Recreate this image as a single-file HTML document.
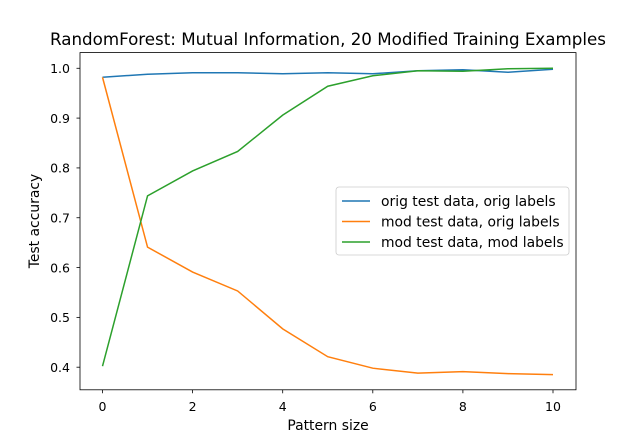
<!DOCTYPE html>
<html><head><meta charset="utf-8"><style>
body{margin:0;background:#fff}
text{font-family:"DejaVu Sans","Liberation Sans",sans-serif;fill:#000}
</style></head><body>
<svg id="c" width="640" height="438" xmlns="http://www.w3.org/2000/svg">
<text x="328" y="45" font-size="16.7" text-anchor="middle">RandomForest: Mutual Information, 20 Modified Training Examples</text>
<g id="g"></g>
<rect x="80" y="52.6" width="496" height="337.2" fill="none" stroke="#000" stroke-width="0.8"/>
<text x="328" y="430" font-size="13.9" text-anchor="middle">Pattern size</text>
<text transform="translate(39,221) rotate(-90)" font-size="13.9" text-anchor="middle">Test accuracy</text>
<g>
<rect x="336" y="187" width="233" height="68" rx="3" fill="#fff" fill-opacity="0.8" stroke="#ccc" stroke-width="0.8"/>
</g>
</svg>
<script>
const xVals=[0,1,2,3,4,5,6,7,8,9,10];
const origOrig=[0.982,0.988,0.991,0.991,0.989,0.991,0.989,0.995,0.997,0.992,0.998];
const modOrig=[0.982,0.641,0.591,0.553,0.477,0.421,0.398,0.388,0.391,0.387,0.385];
const modMod=[0.402,0.744,0.794,0.833,0.906,0.964,0.985,0.995,0.994,0.999,1.0];
const xTicks=[0,2,4,6,8,10];
const yTicks=[0.4,0.5,0.6,0.7,0.8,0.9,1.0];
const seriesNames=["orig test data, orig labels","mod test data, orig labels","mod test data, mod labels"];
const colors=["#1f77b4","#ff7f0e","#2ca02c"];
const X=v=>102.5+v*45.05, Y=v=>367.2-(v-0.4)*498.2;
const NS="http://www.w3.org/2000/svg";
const g=document.getElementById('g'), svg=document.getElementById('c');
function mk(t,a,p){const e=document.createElementNS(NS,t);for(const k in a)e.setAttribute(k,a[k]);(p||g).appendChild(e);return e;}
xTicks.forEach(t=>{
 const l=mk('line',{x1:X(t),x2:X(t),y1:389.8,y2:393.3,stroke:'#000','stroke-width':0.8});
 
 
 const s=mk('text',{x:X(t),y:411,'font-size':12.5,'text-anchor':'middle'});s.textContent=t;
 
 
});
yTicks.forEach(t=>{
 const l=mk('line',{x1:76.5,x2:80,y1:Y(t),y2:Y(t),stroke:'#000','stroke-width':0.8});
 
 
 const s=mk('text',{x:70,y:Y(t)+4.7,'font-size':12.5,'text-anchor':'end'});s.textContent=t.toFixed(1);
 
 
});
[origOrig,modOrig,modMod].forEach((d,i)=>{
 const p=mk('polyline',{points:d.map((v,j)=>X(xVals[j])+','+Y(v)).join(' '),fill:'none',stroke:colors[i],'stroke-width':1.5});
 
 
 const ly=201+i*20.5;
 const ll=mk('line',{x1:342,x2:370,y1:ly,y2:ly,stroke:colors[i],'stroke-width':1.5},svg);
 
 
 const lt=mk('text',{x:381,y:ly+5,'font-size':13.9},svg);lt.textContent=seriesNames[i];
 
 
});
</script>
</body></html>
